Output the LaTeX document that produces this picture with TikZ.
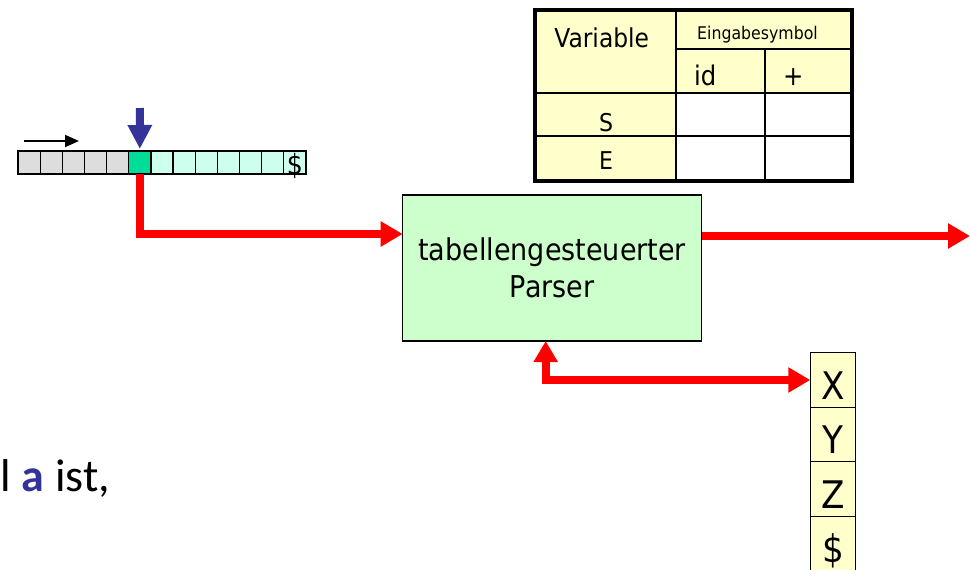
\documentclass[tikz,border=0pt]{standalone}
\usepackage{fontspec}
\newfontfamily\tah{DejaVu Sans}[FakeStretch=0.9]
\newfontfamily\carl{Carlito}
\usetikzlibrary{arrows.meta}
\definecolor{tgray}{HTML}{DDDDDD}
\definecolor{tgreen}{HTML}{00DD99}
\definecolor{tcyan}{HTML}{CCFFEE}
\definecolor{pgreen}{HTML}{CCFFCC}
\definecolor{tyellow}{HTML}{FFFFCC}
\definecolor{pblue}{HTML}{333399}
\definecolor{pred}{HTML}{FF0000}
\begin{document}
\begin{tikzpicture}[x=1pt,y=-1pt,
  tapecell/.style={draw=black, line width=1.3pt, minimum width=22.15pt, minimum height=23pt,
    inner sep=0pt, outer sep=0pt, anchor=north west},
  tcell/.style={draw=black, line width=1.5pt, inner sep=0pt, outer sep=0pt, anchor=north west},
  stackcell/.style={draw=black, line width=1pt, fill=tyellow, minimum width=45.4pt, minimum height=54.6pt,
    inner sep=0pt, outer sep=0pt, text height=38pt, text depth=0pt, font=\tah\fontsize{38}{38}\selectfont},
  tlabel/.style={inner sep=0pt, outer sep=0pt},
  redarrow/.style={draw=pred, line width=8pt, -{Triangle[length=22pt,width=24pt]}},
]
\useasboundingbox (0,0) rectangle (970,570);

% ---- input tape ----
\foreach \i in {1,...,5}
  \node[tapecell, fill=tgray] (t\i) at ({18+(\i-1)*22.15},151) {};
\node[tapecell, fill=tgreen] (t6) at ({18+5*22.15},151) {};
\foreach \i in {7,...,12}
  \node[tapecell, fill=tcyan] (t\i) at ({18+(\i-1)*22.15},151) {};
\node[tapecell, fill=tcyan, text height=23pt, text depth=0pt,
  font=\tah\fontsize{28}{28}\selectfont] (t13) at ({18+12*22.15},151) {\$};

\coordinate (sa) at (24,141);
\coordinate (sb) at (79,141);
\draw[line width=1.8pt, -{Triangle[length=14pt,width=12pt]}] (sa) -- (sb);

\coordinate (bluetop) at (139.8,108);
\draw[draw=pblue, line width=8pt, -{Triangle[length=24pt,width=23pt]}] (bluetop) -- ([yshift=2pt]t6.north);

% ---- parse table ----
\node[tcell, fill=tyellow, minimum width=141.5pt, minimum height=83pt] (var) at (534.5,10) {};
\node[tcell, fill=tyellow, minimum width=175.5pt, minimum height=39pt] (ein) at (676,10) {};
\node[tcell, fill=tyellow, minimum width=89pt, minimum height=44pt] (hid) at (676,49) {};
\node[tcell, fill=tyellow, minimum width=86.5pt, minimum height=44pt] (hplus) at (765,49) {};
\node[tcell, fill=tyellow, minimum width=141.5pt, minimum height=43pt] (rS) at (534.5,93) {};
\node[tcell, fill=white, minimum width=89pt, minimum height=43pt] (sid) at (676,93) {};
\node[tcell, fill=white, minimum width=86.5pt, minimum height=43pt] (splus) at (765,93) {};
\node[tcell, fill=tyellow, minimum width=141.5pt, minimum height=45pt] (rE) at (534.5,136) {};
\node[tcell, fill=white, minimum width=89pt, minimum height=45pt] (eid) at (676,136) {};
\node[tcell, fill=white, minimum width=86.5pt, minimum height=45pt] (eplus) at (765,136) {};
\node[draw=black, line width=4pt, inner sep=0pt, outer sep=0pt, anchor=north west,
  minimum width=317pt, minimum height=171pt] (tab) at (534.5,10) {};

\node[tlabel, anchor=base, font=\tah\fontsize{26}{26}\selectfont] (tvar) at (601.7,47) {Variable};
\node[tlabel, anchor=base, font=\tah\fontsize{17.5}{17.5}\selectfont] (tein) at (757.5,39.3) {Eingabesymbol};
\node[tlabel, anchor=base west, font=\tah\fontsize{27}{27}\selectfont] (tid) at (694,85) {id};
\node[tlabel, anchor=base, font=\tah\fontsize{27}{27}\selectfont] (tplus) at (793.4,85) {+};
\node[tlabel, anchor=base, font=\tah\fontsize{24.5}{24.5}\selectfont] (tS) at (606,131.7) {S};
\node[tlabel, anchor=base, font=\tah\fontsize{24.5}{24.5}\selectfont] (tE) at (606,169.5) {E};

% ---- parser ----
\node[draw=black, line width=1.5pt, fill=pgreen, minimum width=299pt, minimum height=146pt,
  inner sep=0pt, outer sep=0pt, align=center, font=\tah\fontsize{30}{37.6}\selectfont]
  (parser) at (552.2,268) {tabellengesteuerter\\Parser};

% ---- stack ----
\node[stackcell] (s1) at (833,380) {X};
\node[stackcell] (s2) at (833,434.6) {Y};
\node[stackcell] (s3) at (833,489.2) {Z};
\node[stackcell] (s4) at (833,543.8) {\$};

% ---- connectors ----
\coordinate (outend) at (970,236);
\draw[redarrow] (t6.south) |- ([yshift=34pt]parser.west);
\draw[redarrow] ([yshift=32pt]parser.east) -- (outend);
\draw[draw=pred, line width=8pt, {Triangle[length=21pt,width=23pt]}-{Triangle[length=22pt,width=24pt]}]
  ([xshift=-6.5pt]parser.south) |- (s1.west);

% ---- text fragment ----
\node[tlabel, anchor=base west, font=\carl\fontsize{46}{46}\selectfont] (frag) at (1,491.7)
  {l \textcolor{pblue}{\textbf{a}} ist,};
\end{tikzpicture}
\end{document}
